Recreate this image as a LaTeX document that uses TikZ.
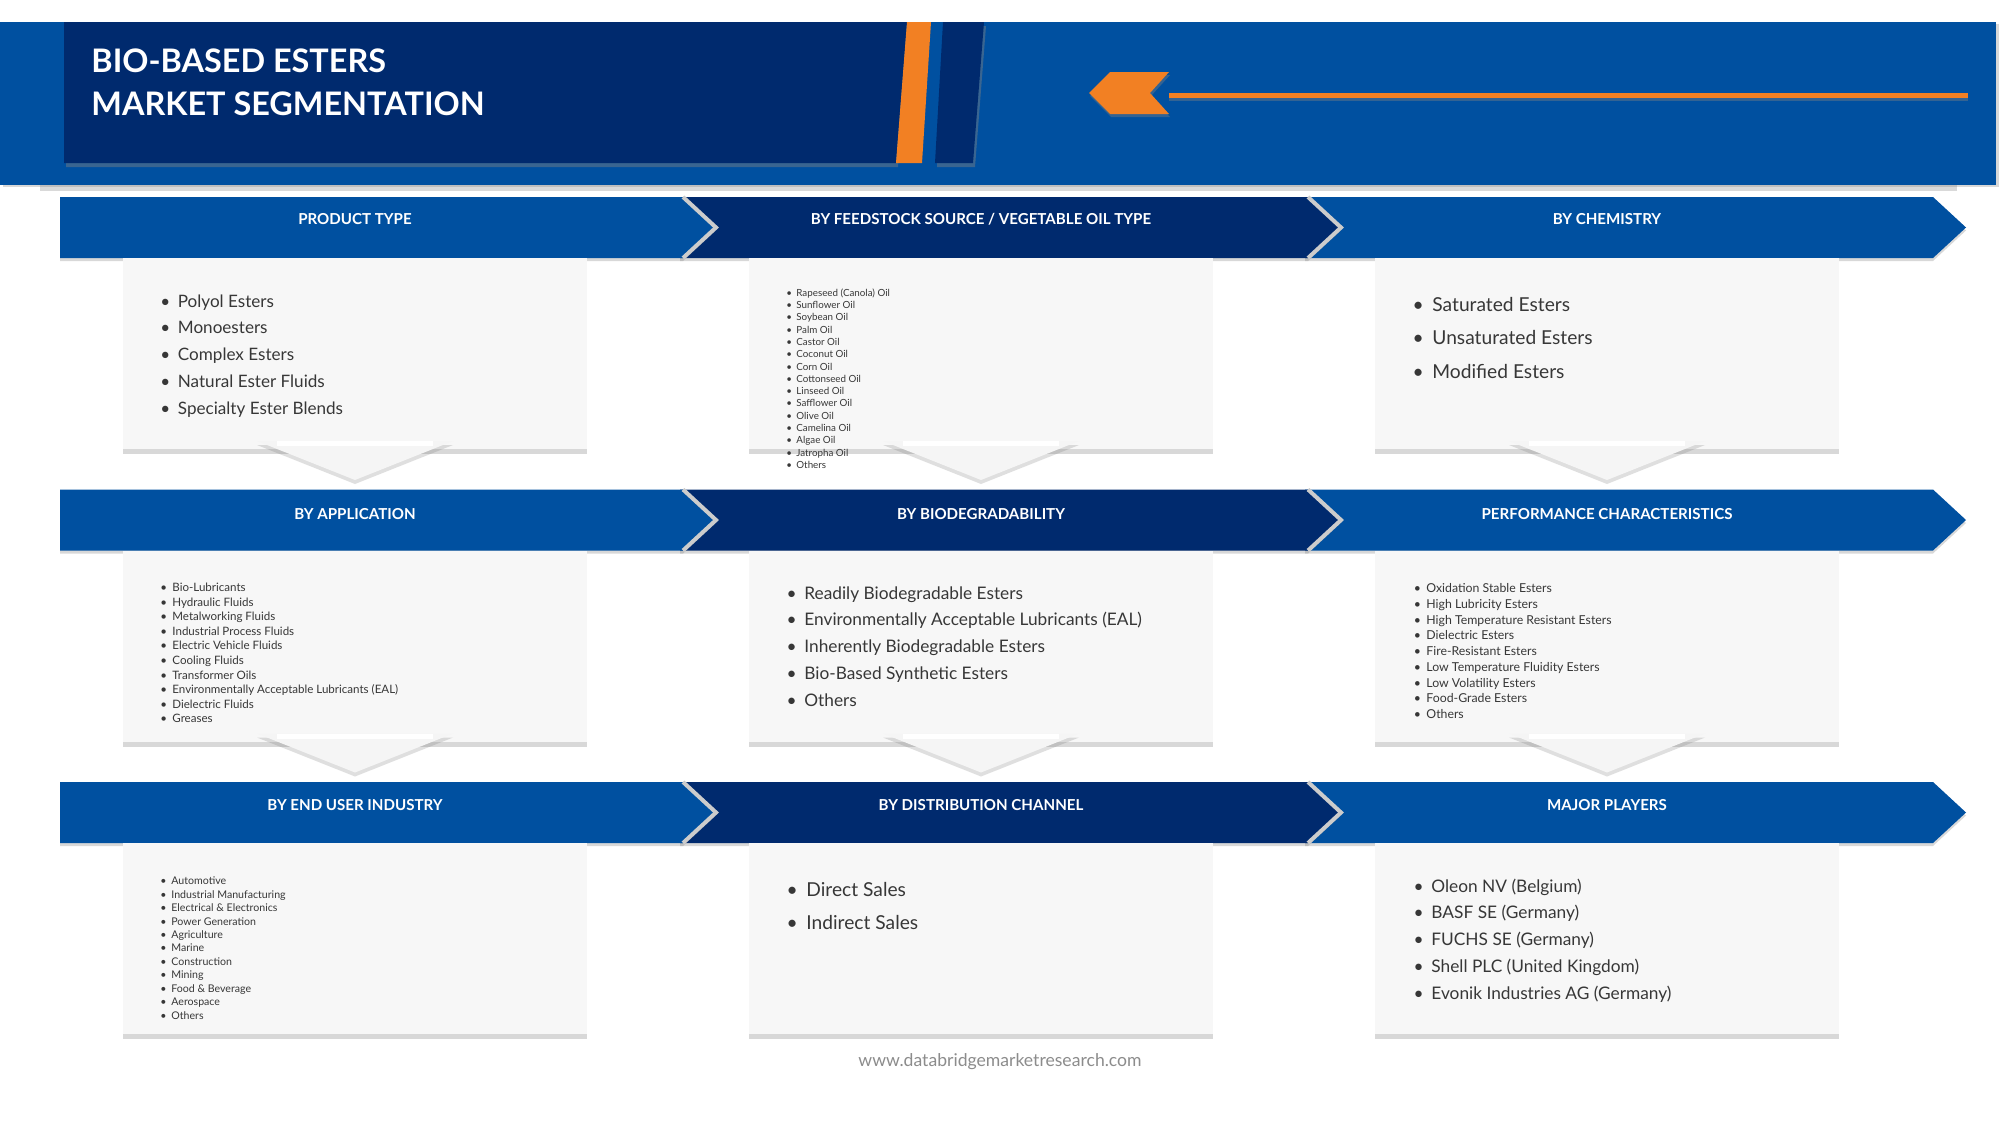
\documentclass[tikz,border=0pt]{standalone}
\usepackage{fontspec}
\setmainfont{Lato}
\usetikzlibrary{shadows}
\definecolor{dbblue}{RGB}{0,80,160}
\definecolor{dbnavy}{RGB}{0,42,110}
\definecolor{dborange}{RGB}{242,128,35}
\definecolor{boxgray}{RGB}{247,247,247}
\definecolor{itemgray}{RGB}{55,55,55}
\definecolor{urlgray}{RGB}{140,140,140}
% name, x, first y, step, font size, items
\newcommand\seglist[6]{%
  \foreach \itm [count=\i] in {#6}
    \node[item,font=\fontsize{#5}{#5}\selectfont] (#1\i) at (#2,{#3+(\i-1)*#4}) {\llap{\textbullet\hspace{.45em}}\itm};}
\begin{document}
\begin{tikzpicture}[x=0.5pt,y=-0.5pt,
  seg/.style={drop shadow={shadow xshift=0pt,shadow yshift=-1.5pt,opacity=.3}},
  sepline/.style={draw=black!20,line width=2pt},
  seghead/.style={text=white,font=\bfseries\fontsize{7.55}{9}\selectfont,anchor=base,inner sep=0pt},
  panel/.style={fill=boxgray,minimum width=232pt,minimum height=95.5pt,inner sep=0pt,
    drop shadow={shadow xshift=0pt,shadow yshift=-2.5pt,opacity=.3}},
  tri/.style={fill=black!4,drop shadow={shadow xshift=0pt,shadow yshift=-2pt,opacity=.25}},
  item/.style={text=itemgray,anchor=west,inner sep=0pt,text height=.72em,text depth=0pt},
  title/.style={text=white,font=\bfseries\fontsize{16.2}{20}\selectfont,anchor=base west,inner sep=0pt}]
\useasboundingbox[fill=white] (0,0) rectangle (2001,1125);

% header
\fill[black!15] (40,185) rectangle (1957,191);
\fill[dbblue,drop shadow={shadow xshift=1.5pt,shadow yshift=-1pt,opacity=.3}] (0,22) rectangle (1996,185);
\fill[dbnavy,drop shadow={shadow xshift=1pt,shadow yshift=-2pt,opacity=.45}] (64,22) -- (907,22) -- (896,163) -- (64,163) -- cycle;
\fill[dborange] (907,22) -- (931,22) -- (922,163) -- (896,163) -- cycle;
\fill[dbnavy,drop shadow={shadow xshift=1pt,shadow yshift=-2pt,opacity=.45}] (943,22) -- (984,22) -- (973,163) -- (935,163) -- cycle;
\node[title] (title1) at (91,72) {BIO-BASED ESTERS};
\node[title] (title2) at (91,115) {MARKET SEGMENTATION};
\fill[dborange,drop shadow={shadow xshift=.5pt,shadow yshift=-1.5pt,opacity=.4}] (1089,93) -- (1110,72) -- (1169,72) -- (1150,93) -- (1169,114) -- (1110,114) -- cycle;
\fill[dborange,drop shadow={shadow xshift=0pt,shadow yshift=-1.5pt,opacity=.4}] (1169,93) rectangle (1968,98);

% banners, panels, pointers
\foreach \ry in {197,489.5,782} {
  \fill[dbblue,seg] (1305,\ry) -- (1933,\ry) -- (1966,\ry+30.5) -- (1933,\ry+61) -- (1305,\ry+61) -- cycle;
  \fill[dbnavy,seg] (680,\ry) -- (1308,\ry) -- (1341,\ry+30.5) -- (1308,\ry+61) -- (680,\ry+61) -- cycle;
  \draw[sepline] (1308,\ry) -- (1341,\ry+30.5) -- (1308,\ry+61);
  \fill[dbblue,seg] (60,\ry) -- (683,\ry) -- (716,\ry+30.5) -- (683,\ry+61) -- (60,\ry+61) -- cycle;
  \draw[sepline] (683,\ry) -- (716,\ry+30.5) -- (683,\ry+61);
}
\foreach \ry [count=\r] in {197,489.5,782}
  \foreach \cx [count=\c] in {355,981,1607}
    \node[panel] (panel\r\c) at (\cx,\ry+156.5) {};
\foreach \ry in {197,489.5}
  \foreach \cx in {355,981,1607} {
    \fill[tri] (\cx-98,\ry+244) -- (\cx+98,\ry+244) -- (\cx,\ry+283) -- cycle;
    \fill[white] (\cx-78,\ry+244) rectangle (\cx+78,\ry+249);
  }

\node[seghead] (head11) at (355,224) {PRODUCT TYPE};
\node[seghead] (head12) at (981,224) {BY FEEDSTOCK SOURCE / VEGETABLE OIL TYPE};
\node[seghead] (head13) at (1607,224) {BY CHEMISTRY};
\node[seghead] (head21) at (355,519) {BY APPLICATION};
\node[seghead] (head22) at (981,519) {BY BIODEGRADABILITY};
\node[seghead] (head23) at (1607,519) {PERFORMANCE CHARACTERISTICS};
\node[seghead] (head31) at (355,810) {BY END USER INDUSTRY};
\node[seghead] (head32) at (981,810) {BY DISTRIBUTION CHANNEL};
\node[seghead] (head33) at (1607,810) {MAJOR PLAYERS};

\seglist{pt}{177.5}{300}{26.75}{8.55}{Polyol Esters,Monoesters,Complex Esters,Natural Ester Fluids,Specialty Ester Blends}
\seglist{fs}{796}{289}{12.3}{4.9}{Rapeseed (Canola) Oil,Sunflower Oil,Soybean Oil,Palm Oil,Castor Oil,Coconut Oil,Corn Oil,Cottonseed Oil,Linseed Oil,Safflower Oil,Olive Oil,Camelina Oil,Algae Oil,Jatropha Oil,Others}
\seglist{ch}{1432}{304}{33.5}{9.6}{Saturated Esters,Unsaturated Esters,Modified Esters}
\seglist{app}{172}{584.5}{14.55}{5.78}{Bio-Lubricants,Hydraulic Fluids,Metalworking Fluids,Industrial Process Fluids,Electric Vehicle Fluids,Cooling Fluids,Transformer Oils,Environmentally Acceptable Lubricants (EAL),Dielectric Fluids,Greases}
\seglist{bio}{804}{592}{26.75}{8.64}{Readily Biodegradable Esters,Environmentally Acceptable Lubricants (EAL),Inherently Biodegradable Esters,Bio-Based Synthetic Esters,Others}
\seglist{perf}{1426}{585.5}{15.75}{6.15}{Oxidation Stable Esters,High Lubricity Esters,High Temperature Resistant Esters,Dielectric Esters,Fire-Resistant Esters,Low Temperature Fluidity Esters,Low Volatility Esters,Food-Grade Esters,Others}
\seglist{eu}{171}{877.5}{13.45}{5.3}{Automotive,Industrial Manufacturing,Electrical \& Electronics,Power Generation,Agriculture,Marine,Construction,Mining,Food \& Beverage,Aerospace,Others}
\seglist{dc}{806}{889}{33}{9.6}{Direct Sales,Indirect Sales}
\seglist{mp}{1431}{885}{26.75}{8.65}{Oleon NV (Belgium),BASF SE (Germany),FUCHS SE (Germany),Shell PLC (United Kingdom),Evonik Industries AG (Germany)}

\node[text=urlgray,font=\fontsize{8.8}{10}\selectfont,inner sep=0pt] (url) at (1000,1061.5) {www.databridgemarketresearch.com};
\end{tikzpicture}
\end{document}
